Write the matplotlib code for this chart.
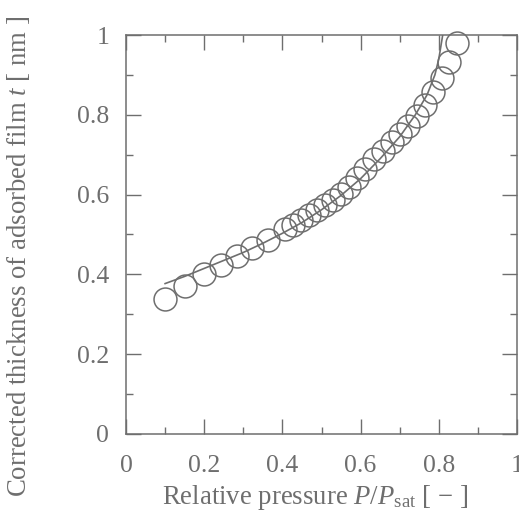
import matplotlib
matplotlib.use("Agg")
import matplotlib.pyplot as plt
from matplotlib.ticker import MultipleLocator

plt.rcParams['font.family'] = ['Liberation Serif', 'DejaVu Serif']
plt.rcParams['mathtext.fontset'] = 'custom'
plt.rcParams['mathtext.rm'] = 'Liberation Serif'
plt.rcParams['mathtext.it'] = 'Liberation Serif:italic'

# Measured points
p_rel = [0.10, 0.15, 0.20, 0.242, 0.283, 0.323, 0.364, 0.407, 0.428, 0.448,
         0.468, 0.489, 0.510, 0.530, 0.550, 0.570, 0.590, 0.612, 0.635, 0.657,
         0.680, 0.701, 0.722, 0.743, 0.765, 0.786, 0.807, 0.826, 0.846]
t_nm = [0.338, 0.372, 0.400, 0.423, 0.445, 0.467, 0.487, 0.513, 0.525, 0.537,
        0.549, 0.561, 0.574, 0.587, 0.602, 0.620, 0.641, 0.663, 0.688, 0.710,
        0.731, 0.752, 0.773, 0.797, 0.825, 0.856, 0.893, 0.932, 0.979]

# Fitted curve
fit_p = [0.10, 0.15, 0.20, 0.25, 0.30, 0.35, 0.40, 0.45, 0.50, 0.55, 0.60,
         0.65, 0.70, 0.74, 0.77, 0.79, 0.80, 0.81]
fit_t = [0.377, 0.395, 0.415, 0.435, 0.455, 0.478, 0.503, 0.530, 0.562,
         0.598, 0.640, 0.690, 0.745, 0.800, 0.850, 0.900, 0.940, 1.000]

xticks = [0, 0.2, 0.4, 0.6, 0.8, 1]
xticklabels = ['0', '0.2', '0.4', '0.6', '0.8', '1']
yticks = [0, 0.2, 0.4, 0.6, 0.8, 1]
yticklabels = ['0', '0.2', '0.4', '0.6', '0.8', '1']

gray = '#6e6e6e'
W, H = 519, 518
fig = plt.figure(figsize=(W / 100, H / 100), dpi=100)
ax = fig.add_axes([126 / W, (H - 434) / H, (517 - 126) / W, (434 - 35) / H])

ax.plot(fit_p, fit_t, color=gray, lw=1.2, zorder=2)
ax.plot(p_rel, t_nm, linestyle='none', marker='o', markersize=16.5,
        markerfacecolor='none', markeredgecolor=gray, markeredgewidth=1.1,
        zorder=3, clip_on=False)

ax.set_xlim(0, 1)
ax.set_ylim(0, 1)
ax.set_xticks(xticks)
ax.set_xticklabels(xticklabels)
ax.set_yticks(yticks)
ax.set_yticklabels(yticklabels)
ax.xaxis.set_minor_locator(MultipleLocator(0.1))
ax.yaxis.set_minor_locator(MultipleLocator(0.1))

for s in ax.spines.values():
    s.set_color(gray)
    s.set_linewidth(1.1)

ax.tick_params(which='both', direction='in', top=True, right=True,
               color=gray, width=1.0, labelcolor=gray, labelsize=18.5)
ax.tick_params(which='major', length=11)
ax.tick_params(which='minor', length=5)
ax.tick_params(axis='x', which='major', pad=15)
ax.tick_params(axis='y', which='major', pad=12)

ax.set_xlabel(r'Relative pressure $P$/$P_{\rm sat}$ [ $-$ ]', fontsize=19.3,
              color=gray)
ax.xaxis.label.set_va('center')
ax.xaxis.set_label_coords(0.483, -0.158)
ax.set_ylabel(r'Corrected thickness of adsorbed film $t$ [ nm ]', fontsize=19.3,
              color=gray)
ax.yaxis.label.set_va('center')
ax.yaxis.set_label_coords(-0.276, 0.446)

fig.savefig('out.png', dpi=100, facecolor='white')
